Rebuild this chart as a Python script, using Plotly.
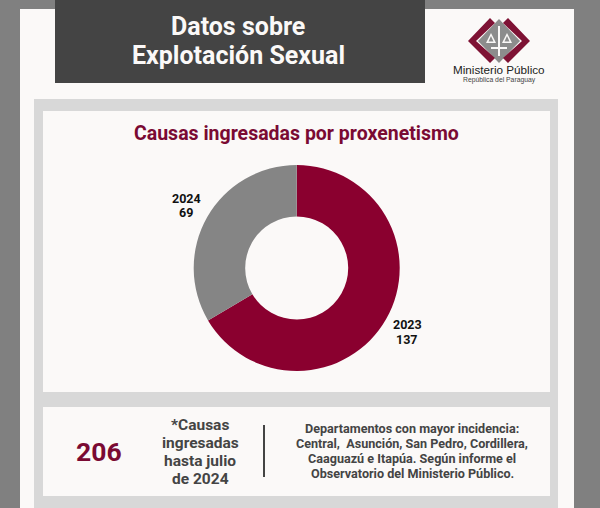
import plotly.graph_objects as go

W, H = 600, 508

# Chart data
years = ["2023", "2024"]
causas = [137, 69]
colores = ["#8A002F", "#858585"]

titulo = ["Datos sobre", "Explotación Sexual"]
subtitulo = "Causas ingresadas por proxenetismo"
total = "206"
nota = ["*Causas", "ingresadas", "hasta julio", "de 2024"]
detalle = [
    "Departamentos con mayor incidencia:",
    "Central,  Asunción, San Pedro, Cordillera,",
    "Caaguazú e Itapúa. Según informe el",
    "Observatorio del Ministerio Público.",
]

FONT = "Roboto"
MAROON = "#7A0A33"
DARK = "#444444"


# helpers: everything on the poster is placed in pixels from the top left
def px_x(x):
    return x / W


def px_y(y):
    return 1 - y / H


def rect(x0, y0, x1, y1, color):
    return dict(type="rect", xref="paper", yref="paper", x0=px_x(x0), x1=px_x(x1),
                y0=px_y(y1), y1=px_y(y0), fillcolor=color, line_width=0, layer="below")


def poly(points, color):
    path = "M " + " L ".join(f"{px_x(x):.5f},{px_y(y):.5f}" for x, y in points) + " Z"
    return dict(type="path", xref="paper", yref="paper", path=path,
                fillcolor=color, line_width=0, layer="below")


def label(x, y, s, size, color, weight=700, family=FONT):
    return dict(xref="paper", yref="paper", x=px_x(x), y=px_y(y), text=s, showarrow=False,
                xanchor="center", yanchor="middle",
                font=dict(family=family, size=size, color=color, weight=weight))


shapes = [
    rect(20, 9, 574, 508, "#FBF9F8"),
    rect(55, 0, 425, 83, "#444444"),
    rect(34, 99, 558, 508, "#D8D8D8"),
    rect(43, 111, 550, 392, "#FBF9F8"),
    rect(43, 407, 550, 496, "#FBF9F8"),
    rect(263, 425, 265, 477, "#444444"),
    # logo
    poly([(499, 19), (520, 41), (499, 63), (478, 41)], "#8C8C8C"),
    poly([(490, 18), (468, 41), (490, 63), (495, 58), (476, 41), (495, 23)], "#7E1234"),
    poly([(508, 18), (530, 41), (508, 63), (503, 58), (522, 41), (503, 23)], "#7E1234"),
    rect(498, 26, 500, 56, "#FBF9F8"),
    rect(491, 47, 507, 49, "#FBF9F8"),
    poly([(491, 33), (496, 43), (486, 43)], "#FBF9F8"),
    poly([(491, 36), (493.5, 41.5), (488.5, 41.5)], "#8C8C8C"),
    poly([(507, 33), (512, 43), (502, 43)], "#FBF9F8"),
    poly([(507, 36), (509.5, 41.5), (504.5, 41.5)], "#8C8C8C"),
]

annotations = [
    label(238, 26, titulo[0], 25, "#FBF9F8"),
    label(238, 55, titulo[1], 25, "#FBF9F8"),
    label(499, 69.5, "Ministerio Público", 11.7, "#222222", 400, "Liberation Sans"),
    label(499, 80.5, "República del Paraguay", 6.8, "#444444", 400, "Liberation Sans"),
    label(296, 133, subtitulo, 19.5, MAROON),
    label(186, 198, years[1], 12.5, "#111111"),
    label(186, 212.5, str(causas[1]), 12.5, "#111111"),
    label(407, 324.5, years[0], 12.5, "#111111"),
    label(407, 339, str(causas[0]), 12.5, "#111111"),
    label(99, 451.5, total, 26.5, MAROON),
]
for y, s in zip([425, 443.3, 461.3, 479], nota):
    annotations.append(label(200, y, s, 15.5, DARK))
for y, s in zip([428.3, 443.3, 458.7, 473.7], detalle):
    annotations.append(label(412, y, s, 12.6, DARK))

fig = go.Figure(go.Pie(
    labels=years,
    values=causas,
    hole=0.5,
    sort=False,
    direction="clockwise",
    rotation=0,
    textinfo="none",
    marker=dict(colors=colores, line=dict(width=0)),
    domain=dict(x=[px_x(296.7 - 103), px_x(296.7 + 103)], y=[px_y(268 + 103), px_y(268 - 103)]),
))

fig.update_layout(
    width=W,
    height=H,
    margin=dict(l=0, r=0, t=0, b=0),
    paper_bgcolor="#808080",
    showlegend=False,
    shapes=shapes,
    annotations=annotations,
)

# the page's default body margin would push the figure 8px in
fig.write_html(
    "out.html",
    config={"displayModeBar": False},
    post_script="document.body.style.margin='0';document.body.style.overflow='hidden';",
)
